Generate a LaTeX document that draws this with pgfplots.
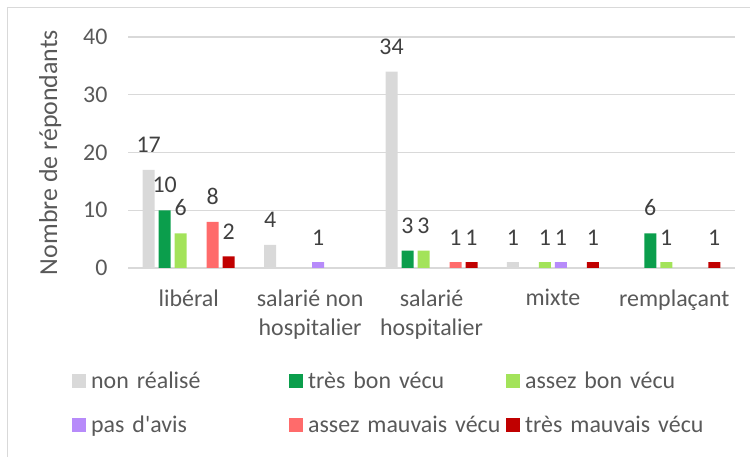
\documentclass[border=0pt]{standalone}
\usepackage{pgfplots}
\pgfplotsset{compat=1.18}
\usepackage{fontspec}
\setmainfont{Carlito}
\definecolor{cgray}{HTML}{D9D9D9}
\definecolor{cdgreen}{HTML}{0B9E4C}
\definecolor{clgreen}{HTML}{A3E35A}
\definecolor{cpurple}{HTML}{B78BFA}
\definecolor{csalmon}{HTML}{FF6B6B}
\definecolor{cdred}{HTML}{C00000}
\definecolor{ctext}{HTML}{595959}
\definecolor{clabel}{HTML}{404040}
\definecolor{cgrid}{HTML}{D9D9D9}
\begin{document}
\begin{tikzpicture}
\useasboundingbox (0,0) rectangle (750bp,457bp);
\draw[cgrid, line width=1bp] (7bp,-10bp) -- (7bp,449bp) -- (760bp,449bp);
\begin{axis}[
  at={(128bp,189bp)}, anchor=south west,
  scale only axis, width=607bp, height=231bp,
  xmin=-0.5, xmax=4.5, ymin=0, ymax=40,
  ytick={0,10,20,30,40}, xtick={0,1,2,3,4},
  xticklabels={libéral,{salarié non\\hospitalier},{salarié\\hospitalier},mixte,remplaçant},
  axis line style={draw=none},
  major tick length=0pt,
  ymajorgrids, grid style={cgrid, line width=1.3bp},
  /pgf/number format/assume math mode=true,
  tick label style={font=\fontsize{24}{29}\selectfont, text=ctext},
  xticklabel style={align=center, yshift=-18bp},
  yticklabel style={xshift=-17bp},
  ylabel={Nombre de répondants},
  ylabel style={font=\fontsize{26}{30}\selectfont, text=ctext, at={(axis description cs:-0.128,0.5)}, anchor=center},
  nodes near coords,
  every node near coord/.append style={font=\fontsize{24}{29}\selectfont, text=clabel, anchor=south, inner sep=2bp, yshift=15bp},
  legend columns=3,
  legend style={draw=none, fill=none, at={(axis description cs:-0.0923,-0.439)}, anchor=north west,
    font=\fontsize{24}{29}\selectfont, text=ctext, inner sep=0pt, cells={anchor=west},
    /tikz/every odd row/.append style={row sep=22bp}},
  legend image code/.code={\fill[#1] (0bp,-7bp) rectangle (14bp,7bp);},
]
\addplot[ybar, bar width=12bp, bar shift=-40bp, fill=cgray, draw=none,
  every node near coord/.append style={xshift=-40bp}] coordinates {(0,17) (1,4) (2,34) (3,1)};
\addlegendentry[text width=193bp, inner xsep=5bp, align=left]{non réalisé}
\addplot[ybar, bar width=12bp, bar shift=-24bp, fill=cdgreen, draw=none,
  every node near coord/.append style={xshift=-24bp}] coordinates {(0,10) (2,3) (4,6)};
\addlegendentry[text width=193bp, inner xsep=5bp, align=left]{très bon vécu}
\addplot[ybar, bar width=12bp, bar shift=-8bp, fill=clgreen, draw=none,
  every node near coord/.append style={xshift=-8bp}] coordinates {(0,6) (2,3) (3,1) (4,1)};
\addlegendentry[text width=193bp, inner xsep=5bp, align=left]{assez bon vécu}
\addplot[ybar, bar width=12bp, bar shift=8bp, fill=cpurple, draw=none,
  every node near coord/.append style={xshift=8bp}] coordinates {(1,1) (3,1)};
\addlegendentry[text width=193bp, inner xsep=5bp, align=left]{pas d\textquotesingle avis}
\addplot[ybar, bar width=12bp, bar shift=24bp, fill=csalmon, draw=none,
  every node near coord/.append style={xshift=24bp}] coordinates {(0,8) (2,1)};
\addlegendentry[text width=193bp, inner xsep=5bp, align=left]{assez mauvais vécu}
\addplot[ybar, bar width=12bp, bar shift=40bp, fill=cdred, draw=none,
  every node near coord/.append style={xshift=40bp}] coordinates {(0,2) (2,1) (3,1) (4,1)};
\addlegendentry[text width=193bp, inner xsep=5bp, align=left]{très mauvais vécu}
\end{axis}
\end{tikzpicture}
\end{document}
